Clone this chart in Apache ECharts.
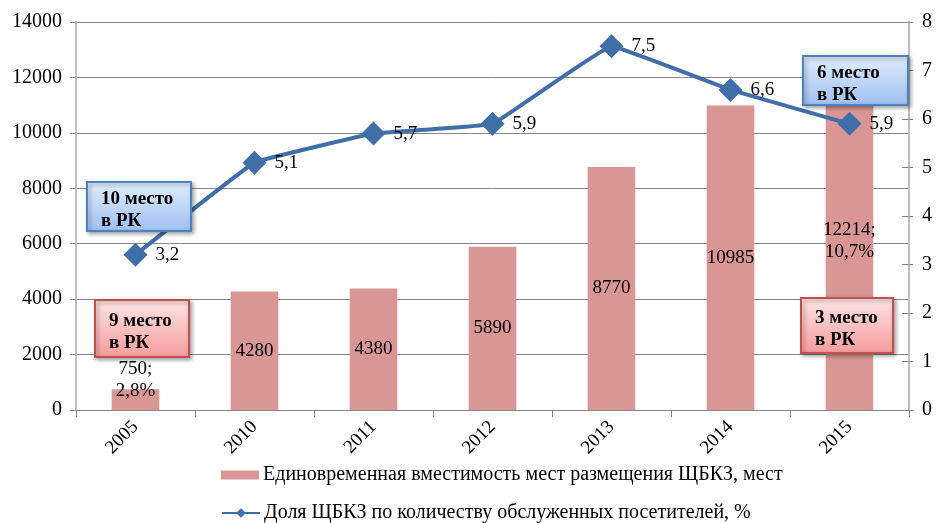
<!DOCTYPE html>
<html>
<head>
<meta charset="utf-8">
<script src="https://cdn.jsdelivr.net/npm/echarts@6/dist/echarts.min.js"></script>
<style>html,body{margin:0;padding:0;background:#fff}#c{width:937px;height:523px}</style>
</head>
<body>
<div id="c"></div>
<script>
var categories = ['2005', '2010', '2011', '2012', '2013', '2014', '2015'];
var capacity = [750, 4280, 4380, 5890, 8770, 10985, 12214];
var capacityLabels = ['750;\n2,8%', '4280', '4380', '5890', '8770', '10985', '12214;\n10,7%'];
var share = [3.2, 5.1, 5.7, 5.9, 7.5, 6.6, 5.9];
var leftTicks = [0, 2000, 4000, 6000, 8000, 10000, 12000, 14000];
var rightTicks = [0, 1, 2, 3, 4, 5, 6, 7, 8];
var barName = 'Единовременная вместимость мест размещения ЩБКЗ, мест';
var lineName = 'Доля ЩБКЗ по количеству обслуженных посетителей, %';
var notes = [
  {text: '10 место\nв РК', kind: 'blue', x: 87, y: 182, w: 104, h: 49},
  {text: '9 место\nв РК', kind: 'red', x: 95, y: 300, w: 94, h: 57},
  {text: '6 место\nв РК', kind: 'blue', x: 803, y: 56, w: 105, h: 49},
  {text: '3 место\nв РК', kind: 'red', x: 801, y: 298, w: 92, h: 55}
];

var FONT = '"Liberation Serif", "Times New Roman", serif';
var chart = echarts.init(document.getElementById('c'), null, {renderer: 'canvas'});

function box(n) {
  var blue = n.kind === 'blue';
  return {
    type: 'group', x: n.x, y: n.y, z: 100, zlevel: 1,
    children: [
      {type: 'rect', z: 100, zlevel: 1, shape: {x: 0, y: 0, width: n.w, height: n.h},
        style: {
          fill: new echarts.graphic.LinearGradient(0, 0, 0, 1, blue ?
            [{offset: 0, color: '#e3eefc'}, {offset: 1, color: '#9dbff0'}] :
            [{offset: 0, color: '#ffe6e6'}, {offset: 1, color: '#f59b9b'}]),
          stroke: blue ? '#4f81bd' : '#c0504d', lineWidth: 2,
          shadowBlur: 4, shadowOffsetX: 2, shadowOffsetY: 2, shadowColor: 'rgba(0,0,0,0.35)'
        }},
      {type: 'text', z: 101, zlevel: 1, x: 14, y: n.h / 2 + 4, style: {
        text: n.text, font: 'bold 19px ' + FONT, fill: '#000', verticalAlign: 'middle',
        lineHeight: 22 }}
    ]
  };
}

var legendText = {fontFamily: FONT, fontSize: 20, color: '#000', padding: [0, 0, 0, -1]};
chart.setOption({
  animation: false,
  textStyle: {fontFamily: FONT},
  grid: {left: 76, right: 28, top: 22, bottom: 113},
  legend: [
    {left: 216, top: 460, itemWidth: 38, itemHeight: 9, textStyle: legendText,
      data: [{name: barName, icon: 'rect'}]},
    {left: 216, top: 498, itemWidth: 38, itemHeight: 12, textStyle: legendText,
      data: [{name: lineName}]}
  ],
  xAxis: {
    type: 'category', data: categories,
    axisLine: {lineStyle: {color: '#868686', width: 1}},
    axisTick: {show: true, length: 7, lineStyle: {color: '#868686'}},
    axisLabel: {rotate: 45, fontSize: 19, color: '#000', fontFamily: FONT, margin: 14}
  },
  yAxis: [
    {type: 'value', min: 0, max: 14000, interval: 2000,
      axisLine: {show: true, lineStyle: {color: '#bfbfbf', width: 2}},
      axisTick: {show: true, length: 6, lineStyle: {color: '#868686'}},
      splitLine: {lineStyle: {color: '#868686', width: 1}},
      axisLabel: {fontSize: 20, color: '#000', fontFamily: FONT, margin: 14,
        formatter: function (v) { return leftTicks.indexOf(v) >= 0 ? String(v) : ''; }}},
    {type: 'value', min: 0, max: 8, interval: 1, position: 'right',
      axisLine: {show: true, lineStyle: {color: '#bfbfbf', width: 2}},
      axisTick: {show: true, length: 4, lineStyle: {color: '#868686'}},
      splitLine: {show: false},
      axisLabel: {fontSize: 20, color: '#000', fontFamily: FONT, margin: 13,
        formatter: function (v) { return rightTicks.indexOf(v) >= 0 ? String(v) : ''; }}},
    {type: 'value', min: 0, max: 8, interval: 1, position: 'right',
      axisLine: {show: false}, splitLine: {show: false},
      axisTick: {show: true, inside: true, length: 7, lineStyle: {color: '#868686'}},
      axisLabel: {show: false}}
  ],
  series: [
    {name: barName, type: 'bar', yAxisIndex: 0, barWidth: '40%',
      itemStyle: {color: '#d99694'},
      data: capacity.map(function (v, i) {
        var lab = {show: true, formatter: capacityLabels[i], fontSize: 19, color: '#000',
          fontFamily: FONT, lineHeight: 22, position: 'inside'};
        if (i === 0) { lab.position = 'top'; lab.distance = -13; lab.lineHeight = 22; }
        return {value: v, label: lab};
      })},
    {name: lineName, type: 'line', yAxisIndex: 1, smooth: 0.06, z: 5,
      symbol: 'diamond', symbolSize: 24,
      lineStyle: {color: '#3f6ea8', width: 4},
      itemStyle: {color: '#3f6ea8'},
      label: {show: true, position: 'right', distance: 8, fontSize: 19, color: '#000',
        fontFamily: FONT, formatter: function (p) { return String(p.value).replace('.', ','); }},
      data: share}
  ],
  graphic: notes.map(box)
});
</script>
</body>
</html>
